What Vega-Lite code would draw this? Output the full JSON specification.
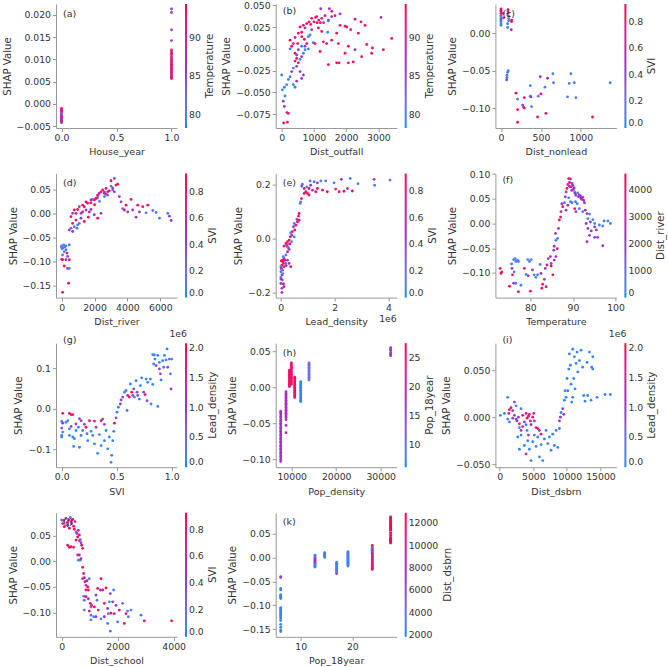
{
"$schema": "https://vega.github.io/schema/vega-lite/v6.json",
"background": "white",
"padding": {"left": 2, "top": 1, "right": 0, "bottom": 0},
"columns": 3,
"bounds": "flush",
"spacing": {"row": 45.6, "column": 98.7},
"resolve": {"scale": {"color": "independent", "x": "independent", "y": "independent"}, "legend": {"color": "independent"}},
"config": {
  "font": "DejaVu Sans",
  "view": {"stroke": null},
  "axis": {"grid": false, "domainColor": "#999999", "tickColor": "#999999", "labelColor": "#333333", "titleColor": "#333333", "labelFontSize": 9.3, "titleFontSize": 9.5, "titleFontWeight": "normal", "tickSize": 3.5, "labelPadding": 2, "titlePadding": 4, "labelFlush": false, "labelOverlap": false},
  "axisY": {"titleFontSize": 10.2},
  "legend": {"gradientLength": 124, "gradientThickness": 2, "labelFontSize": 9.3, "titleFontSize": 10.2, "titleFontWeight": "normal", "titleOrient": "right", "titleAnchor": "middle", "offset": 8, "padding": 0, "labelOffset": 4, "gradientStrokeWidth": 0, "titleColor": "#333333", "labelColor": "#333333", "labelOverlap": false, "titlePadding": 4},
  "title": {"anchor": "start", "frame": "group", "offset": -14, "dx": 7, "fontSize": 9.5, "fontWeight": "normal", "color": "#333333"},
  "point": {"filled": true, "size": 8, "opacity": 1}
},
"datasets": {
"a": [{"x":0,"y":-0.0010,"c":92},{"x":0,"y":-0.0012,"c":93},{"x":0,"y":-0.0014,"c":91},{"x":0,"y":-0.0016,"c":92},{"x":0,"y":-0.0018,"c":90},{"x":0,"y":-0.0020,"c":91},{"x":0,"y":-0.0022,"c":80},{"x":0,"y":-0.0024,"c":79},{"x":0,"y":-0.0026,"c":85},{"x":0,"y":-0.0028,"c":92},{"x":0,"y":-0.0030,"c":91},{"x":0,"y":-0.0032,"c":93},{"x":0,"y":-0.0034,"c":84},{"x":0,"y":-0.0036,"c":92},{"x":0,"y":-0.0038,"c":90},{"x":0,"y":-0.0040,"c":88},{"x":0,"y":-0.0042,"c":86},
{"x":1,"y":0.0213,"c":86},{"x":1,"y":0.0205,"c":86},{"x":1,"y":0.0166,"c":86},{"x":1,"y":0.0142,"c":85},{"x":1,"y":0.0121,"c":92},{"x":1,"y":0.0117,"c":91},{"x":1,"y":0.0113,"c":93},{"x":1,"y":0.0110,"c":92},{"x":1,"y":0.0106,"c":90},{"x":1,"y":0.0102,"c":91},{"x":1,"y":0.0098,"c":93},{"x":1,"y":0.0095,"c":89},{"x":1,"y":0.0092,"c":92},{"x":1,"y":0.0089,"c":91},{"x":1,"y":0.0086,"c":94},{"x":1,"y":0.0083,"c":90},{"x":1,"y":0.0080,"c":92},{"x":1,"y":0.0077,"c":88},{"x":1,"y":0.0074,"c":93},{"x":1,"y":0.0071,"c":91},{"x":1,"y":0.0068,"c":89},{"x":1,"y":0.0065,"c":92},{"x":1,"y":0.0062,"c":90},{"x":1,"y":0.0059,"c":91},{"x":1,"y":0.0057,"c":93}],
"b": [{"x":62,"y":-0.085,"c":93},{"x":176,"y":-0.084,"c":93},{"x":165,"y":-0.073,"c":93},{"x":207,"y":-0.074,"c":92},{"x":52,"y":-0.060,"c":86},{"x":83,"y":-0.066,"c":86},{"x":103,"y":-0.054,"c":79},{"x":21,"y":-0.047,"c":79},{"x":83,"y":-0.044,"c":79},{"x":155,"y":-0.041,"c":80},{"x":0,"y":-0.030,"c":79},{"x":207,"y":-0.035,"c":79},{"x":259,"y":-0.032,"c":80},{"x":310,"y":-0.026,"c":86},{"x":362,"y":-0.022,"c":79},{"x":465,"y":-0.020,"c":86},{"x":517,"y":-0.016,"c":93},{"x":414,"y":-0.014,"c":91},{"x":569,"y":-0.012,"c":79},{"x":620,"y":-0.009,"c":86},{"x":465,"y":-0.007,"c":86},{"x":672,"y":-0.005,"c":79},{"x":517,"y":-0.001,"c":86},{"x":259,"y":0.000,"c":79},{"x":310,"y":0.003,"c":93},{"x":362,"y":0.006,"c":93},{"x":259,"y":0.010,"c":93},{"x":414,"y":0.013,"c":91},{"x":517,"y":0.018,"c":93},{"x":620,"y":0.019,"c":93},{"x":569,"y":0.025,"c":93},{"x":672,"y":0.027,"c":93},{"x":776,"y":0.029,"c":93},{"x":724,"y":0.024,"c":86},{"x":848,"y":0.031,"c":93},{"x":931,"y":0.035,"c":93},{"x":1086,"y":0.037,"c":93},{"x":1241,"y":0.035,"c":91},{"x":1344,"y":0.038,"c":93},{"x":1448,"y":0.033,"c":93},{"x":1551,"y":0.037,"c":86},{"x":1655,"y":0.038,"c":93},{"x":1210,"y":0.046,"c":86},{"x":1479,"y":0.046,"c":86},{"x":1551,"y":0.043,"c":93},{"x":1810,"y":0.040,"c":86},{"x":2275,"y":0.034,"c":93},{"x":2461,"y":0.031,"c":93},{"x":1448,"y":0.032,"c":79},{"x":1427,"y":0.019,"c":79},{"x":1138,"y":0.024,"c":93},{"x":1241,"y":0.020,"c":93},{"x":931,"y":0.022,"c":86},{"x":776,"y":0.006,"c":93},{"x":982,"y":0.007,"c":79},{"x":1034,"y":0.006,"c":93},{"x":827,"y":0.000,"c":79},{"x":724,"y":0.003,"c":86},{"x":827,"y":0.014,"c":79},{"x":1293,"y":0.008,"c":93},{"x":1189,"y":-0.003,"c":93},{"x":1396,"y":0.006,"c":93},{"x":1551,"y":0.010,"c":93},{"x":1706,"y":0.018,"c":93},{"x":1810,"y":0.027,"c":93},{"x":1965,"y":0.026,"c":93},{"x":2585,"y":0.027,"c":93},{"x":3082,"y":0.036,"c":86},{"x":3413,"y":0.012,"c":93},{"x":3154,"y":-0.001,"c":93},{"x":2813,"y":0.001,"c":93},{"x":2792,"y":-0.005,"c":93},{"x":2637,"y":0.005,"c":93},{"x":2482,"y":-0.009,"c":93},{"x":2378,"y":0.018,"c":93},{"x":2141,"y":0.022,"c":93},{"x":2017,"y":0.025,"c":93},{"x":1758,"y":0.006,"c":93},{"x":1448,"y":-0.018,"c":93},{"x":1706,"y":-0.016,"c":93},{"x":1779,"y":-0.016,"c":93},{"x":2068,"y":-0.016,"c":93},{"x":2223,"y":-0.015,"c":93},{"x":2275,"y":-0.001,"c":86},{"x":2068,"y":0.003,"c":93},{"x":1965,"y":-0.005,"c":93},{"x":362,"y":-0.041,"c":79},{"x":465,"y":-0.037,"c":86},{"x":414,"y":-0.044,"c":79},{"x":620,"y":-0.034,"c":86},{"x":672,"y":-0.030,"c":86},{"x":569,"y":-0.026,"c":86},{"x":465,"y":-0.011,"c":93},{"x":414,"y":-0.005,"c":93},{"x":620,"y":0.003,"c":79},{"x":724,"y":-0.001,"c":79},{"x":879,"y":0.016,"c":79},{"x":620,"y":0.014,"c":93},{"x":496,"y":0.006,"c":93},{"x":703,"y":0.011,"c":93},{"x":1000,"y":0.031,"c":93},{"x":1100,"y":0.030,"c":93},{"x":1150,"y":0.033,"c":93},{"x":900,"y":0.028,"c":93},{"x":1050,"y":0.036,"c":91},{"x":1200,"y":0.030,"c":93},{"x":1300,"y":0.030,"c":86}],
"c": [{"x":0,"y":0.033,"c":0.88},{"x":0,"y":0.031,"c":0.9},{"x":0,"y":0.029,"c":0.85},{"x":0,"y":0.027,"c":0.75},{"x":0,"y":0.024,"c":0.45},{"x":0,"y":0.022,"c":0.1},{"x":0,"y":0.020,"c":0.1},{"x":0,"y":0.018,"c":0.85},{"x":0,"y":0.016,"c":0.1},{"x":0,"y":0.013,"c":0.05},{"x":0,"y":0.011,"c":0.1},{"x":88,"y":0.032,"c":0.88},{"x":88,"y":0.030,"c":0.85},{"x":88,"y":0.027,"c":0.9},{"x":96,"y":0.023,"c":0.45},{"x":96,"y":0.020,"c":0.1},{"x":96,"y":0.017,"c":0.1},{"x":83,"y":0.013,"c":0.1},{"x":83,"y":0.008,"c":0.1},{"x":133,"y":0.018,"c":0.88},{"x":133,"y":0.016,"c":0.85},{"x":129,"y":0.005,"c":0.45},{"x":25,"y":0.027,"c":0.85},{"x":33,"y":0.021,"c":0.85},{"x":92,"y":-0.050,"c":0.1},{"x":83,"y":-0.052,"c":0.1},{"x":75,"y":-0.056,"c":0.1},{"x":75,"y":-0.059,"c":0.15},{"x":71,"y":-0.062,"c":0.45},{"x":188,"y":-0.080,"c":0.88},{"x":208,"y":-0.088,"c":0.1},{"x":208,"y":-0.102,"c":0.88},{"x":208,"y":-0.119,"c":0.88},{"x":271,"y":-0.096,"c":0.45},{"x":283,"y":-0.099,"c":0.45},{"x":292,"y":-0.100,"c":0.85},{"x":292,"y":-0.086,"c":0.75},{"x":367,"y":-0.070,"c":0.1},{"x":367,"y":-0.084,"c":0.1},{"x":375,"y":-0.085,"c":0.45},{"x":383,"y":-0.098,"c":0.1},{"x":467,"y":-0.084,"c":0.1},{"x":458,"y":-0.112,"c":0.88},{"x":500,"y":-0.081,"c":0.88},{"x":492,"y":-0.058,"c":0.45},{"x":550,"y":-0.072,"c":0.1},{"x":563,"y":-0.107,"c":0.88},{"x":583,"y":-0.060,"c":0.45},{"x":650,"y":-0.054,"c":0.1},{"x":658,"y":-0.066,"c":0.1},{"x":833,"y":-0.085,"c":0.1},{"x":854,"y":-0.067,"c":0.1},{"x":875,"y":-0.054,"c":0.1},{"x":917,"y":-0.066,"c":0.1},{"x":938,"y":-0.086,"c":0.1},{"x":1146,"y":-0.112,"c":0.88},{"x":1367,"y":-0.066,"c":0.1}],
"d": [{"x":61,"y":-0.165,"c":0.88},{"x":426,"y":-0.146,"c":0.88},{"x":365,"y":-0.115,"c":0.45},{"x":467,"y":-0.115,"c":0.1},{"x":162,"y":-0.110,"c":0.88},{"x":0,"y":-0.096,"c":0.88},{"x":264,"y":-0.097,"c":0.45},{"x":467,"y":-0.097,"c":0.88},{"x":365,"y":-0.090,"c":0.45},{"x":61,"y":-0.087,"c":0.1},{"x":162,"y":-0.080,"c":0.1},{"x":264,"y":-0.076,"c":0.1},{"x":0,"y":-0.071,"c":0.1},{"x":0,"y":-0.068,"c":0.1},{"x":122,"y":-0.066,"c":0.1},{"x":264,"y":-0.068,"c":0.1},{"x":467,"y":-0.066,"c":0.1},{"x":325,"y":-0.083,"c":0.88},{"x":61,"y":-0.097,"c":0.88},{"x":30,"y":-0.074,"c":0.1},{"x":90,"y":-0.072,"c":0.15},{"x":200,"y":-0.070,"c":0.1},{"x":467,"y":-0.035,"c":0.45},{"x":568,"y":-0.031,"c":0.1},{"x":669,"y":-0.038,"c":0.45},{"x":669,"y":-0.021,"c":0.88},{"x":872,"y":-0.014,"c":0.88},{"x":1075,"y":-0.021,"c":0.1},{"x":974,"y":-0.024,"c":0.1},{"x":1176,"y":-0.010,"c":0.45},{"x":872,"y":0.000,"c":0.88},{"x":1278,"y":0.003,"c":0.88},{"x":974,"y":0.008,"c":0.88},{"x":1379,"y":0.014,"c":0.88},{"x":1582,"y":0.021,"c":0.88},{"x":1785,"y":0.022,"c":0.88},{"x":1988,"y":0.028,"c":0.88},{"x":2191,"y":0.033,"c":0.1},{"x":1886,"y":0.029,"c":0.1},{"x":1481,"y":0.007,"c":0.45},{"x":1684,"y":0.003,"c":0.45},{"x":1988,"y":-0.003,"c":0.45},{"x":2191,"y":-0.010,"c":0.88},{"x":2394,"y":0.000,"c":0.45},{"x":1623,"y":-0.008,"c":0.88},{"x":1379,"y":-0.017,"c":0.88},{"x":1176,"y":0.000,"c":0.45},{"x":1785,"y":0.008,"c":0.45},{"x":2292,"y":0.042,"c":0.45},{"x":2394,"y":0.045,"c":0.88},{"x":2596,"y":0.042,"c":0.88},{"x":2799,"y":0.038,"c":0.1},{"x":2698,"y":0.052,"c":0.88},{"x":3002,"y":0.068,"c":0.88},{"x":3205,"y":0.073,"c":0.45},{"x":3306,"y":0.059,"c":0.88},{"x":3408,"y":0.061,"c":0.88},{"x":3002,"y":0.057,"c":0.1},{"x":3103,"y":0.049,"c":0.1},{"x":3205,"y":0.045,"c":0.45},{"x":3509,"y":0.035,"c":0.45},{"x":3611,"y":0.024,"c":0.45},{"x":3712,"y":0.010,"c":0.1},{"x":3813,"y":0.007,"c":0.88},{"x":3915,"y":0.017,"c":0.88},{"x":4219,"y":0.029,"c":0.88},{"x":4016,"y":0.003,"c":0.45},{"x":4320,"y":0.007,"c":0.45},{"x":4625,"y":0.017,"c":0.88},{"x":4929,"y":0.014,"c":0.88},{"x":5233,"y":0.017,"c":0.88},{"x":4726,"y":0.003,"c":0.45},{"x":5132,"y":0.001,"c":0.1},{"x":5538,"y":0.006,"c":0.1},{"x":5740,"y":0.002,"c":0.1},{"x":4523,"y":-0.008,"c":0.45},{"x":5943,"y":-0.010,"c":0.1},{"x":6450,"y":0.000,"c":0.1},{"x":6552,"y":-0.006,"c":0.45},{"x":6653,"y":-0.015,"c":0.45},{"x":2495,"y":0.049,"c":0.88},{"x":2596,"y":0.045,"c":0.45},{"x":2799,"y":0.045,"c":0.88},{"x":2191,"y":0.038,"c":0.88},{"x":2089,"y":0.031,"c":0.88},{"x":1785,"y":0.028,"c":0.45},{"x":1481,"y":0.024,"c":0.88},{"x":1278,"y":0.017,"c":0.88},{"x":1075,"y":0.014,"c":0.45},{"x":771,"y":0.007,"c":0.88},{"x":669,"y":0.000,"c":0.45},{"x":568,"y":-0.007,"c":0.88},{"x":771,"y":-0.028,"c":0.1},{"x":933,"y":-0.031,"c":0.1},{"x":2600,"y":0.035,"c":0.1},{"x":2700,"y":0.040,"c":0.45},{"x":2900,"y":0.047,"c":0.88},{"x":3100,"y":0.053,"c":0.45},{"x":2000,"y":0.018,"c":0.88},{"x":2300,"y":0.025,"c":0.1}],
"e": [{"x":800000,"y":0.200,"c":0.1},{"x":780000,"y":0.193,"c":0.45},{"x":870000,"y":0.184,"c":0.88},{"x":930000,"y":0.172,"c":0.88},{"x":990000,"y":0.166,"c":0.88},{"x":1090000,"y":0.212,"c":0.1},{"x":1240000,"y":0.209,"c":0.1},{"x":1360000,"y":0.205,"c":0.45},{"x":1490000,"y":0.212,"c":0.1},{"x":1670000,"y":0.212,"c":0.1},{"x":1980000,"y":0.205,"c":0.1},{"x":2250000,"y":0.218,"c":0.45},{"x":2580000,"y":0.221,"c":0.1},{"x":2870000,"y":0.202,"c":0.1},{"x":3470000,"y":0.218,"c":0.45},{"x":3490000,"y":0.196,"c":0.1},{"x":4060000,"y":0.215,"c":0.1},{"x":2040000,"y":0.182,"c":0.75},{"x":2170000,"y":0.172,"c":0.88},{"x":2350000,"y":0.174,"c":0.88},{"x":2480000,"y":0.184,"c":0.45},{"x":2660000,"y":0.175,"c":0.88},{"x":1730000,"y":0.172,"c":0.88},{"x":1550000,"y":0.178,"c":0.88},{"x":1360000,"y":0.184,"c":0.88},{"x":1180000,"y":0.178,"c":0.45},{"x":1300000,"y":0.172,"c":0.88},{"x":1050000,"y":0.184,"c":0.88},{"x":1110000,"y":0.196,"c":0.45},{"x":970000,"y":0.190,"c":0.1},{"x":870000,"y":0.166,"c":0.88},{"x":1050000,"y":0.160,"c":0.88},{"x":740000,"y":0.135,"c":0.1},{"x":770000,"y":0.147,"c":0.88},{"x":720000,"y":0.129,"c":0.1},{"x":680000,"y":0.092,"c":0.88},{"x":660000,"y":0.082,"c":0.75},{"x":680000,"y":0.067,"c":0.88},{"x":620000,"y":0.061,"c":0.88},{"x":560000,"y":0.049,"c":0.88},{"x":500000,"y":0.055,"c":0.1},{"x":470000,"y":0.043,"c":0.45},{"x":520000,"y":0.031,"c":0.88},{"x":430000,"y":0.025,"c":0.88},{"x":410000,"y":0.012,"c":0.45},{"x":370000,"y":0.021,"c":0.1},{"x":350000,"y":0.006,"c":0.88},{"x":310000,"y":-0.006,"c":0.88},{"x":250000,"y":-0.012,"c":0.88},{"x":220000,"y":-0.025,"c":0.45},{"x":270000,"y":-0.033,"c":0.88},{"x":190000,"y":-0.018,"c":0.88},{"x":120000,"y":-0.028,"c":0.88},{"x":310000,"y":-0.040,"c":0.45},{"x":250000,"y":-0.049,"c":0.88},{"x":190000,"y":-0.061,"c":0.1},{"x":120000,"y":-0.074,"c":0.45},{"x":60000,"y":-0.080,"c":0.88},{"x":20000,"y":-0.083,"c":0.88},{"x":100000,"y":-0.092,"c":0.88},{"x":40000,"y":-0.098,"c":0.88},{"x":0,"y":-0.104,"c":0.1},{"x":20000,"y":-0.110,"c":0.88},{"x":60000,"y":-0.117,"c":0.45},{"x":0,"y":-0.123,"c":0.1},{"x":40000,"y":-0.135,"c":0.45},{"x":0,"y":-0.144,"c":0.1},{"x":60000,"y":-0.153,"c":0.1},{"x":0,"y":-0.166,"c":0.45},{"x":100000,"y":-0.168,"c":0.88},{"x":120000,"y":-0.178,"c":0.45},{"x":40000,"y":-0.184,"c":0.45},{"x":40000,"y":-0.199,"c":0.45},{"x":250000,"y":-0.080,"c":0.45},{"x":310000,"y":-0.092,"c":0.45},{"x":370000,"y":-0.104,"c":0.88},{"x":120000,"y":-0.104,"c":0.88},{"x":190000,"y":-0.092,"c":0.1},{"x":90000,"y":-0.067,"c":0.1},{"x":250000,"y":-0.031,"c":0.1},{"x":400000,"y":-0.012,"c":0.1},{"x":500000,"y":0.006,"c":0.1},{"x":80000,"y":-0.085,"c":0.88},{"x":150000,"y":-0.080,"c":0.88},{"x":30000,"y":-0.115,"c":0.1},{"x":70000,"y":-0.130,"c":0.1},{"x":10000,"y":-0.150,"c":0.45},{"x":200000,"y":-0.100,"c":0.45},{"x":330000,"y":-0.020,"c":0.88},{"x":600000,"y":0.070,"c":0.45}],
"f": [{"x":72.9,"y":-0.091,"c":4200},{"x":73.1,"y":-0.101,"c":4200},{"x":73.3,"y":-0.098,"c":4200},{"x":75.1,"y":-0.127,"c":4200},{"x":75.8,"y":-0.104,"c":4200},{"x":75.7,"y":-0.091,"c":2200},{"x":75.6,"y":-0.082,"c":400},{"x":76.1,"y":-0.073,"c":400},{"x":76.4,"y":-0.071,"c":400},{"x":76.6,"y":-0.077,"c":400},{"x":77.0,"y":-0.074,"c":400},{"x":77.2,"y":-0.077,"c":400},{"x":76.2,"y":-0.098,"c":400},{"x":76.1,"y":-0.121,"c":2200},{"x":76.6,"y":-0.121,"c":400},{"x":77.2,"y":-0.138,"c":4200},{"x":77.8,"y":-0.125,"c":400},{"x":78.6,"y":-0.091,"c":4200},{"x":79.0,"y":-0.103,"c":400},{"x":79.4,"y":-0.073,"c":400},{"x":79.8,"y":-0.077,"c":400},{"x":80.2,"y":-0.073,"c":400},{"x":79.5,"y":-0.106,"c":2200},{"x":80.0,"y":-0.137,"c":4200},{"x":80.5,"y":-0.094,"c":2200},{"x":80.9,"y":-0.104,"c":400},{"x":81.3,"y":-0.109,"c":400},{"x":81.7,"y":-0.104,"c":400},{"x":82.3,"y":-0.083,"c":400},{"x":82.5,"y":-0.101,"c":2200},{"x":82.7,"y":-0.131,"c":4200},{"x":82.9,"y":-0.123,"c":4200},{"x":83.3,"y":-0.113,"c":2200},{"x":83.7,"y":-0.128,"c":4200},{"x":83.5,"y":-0.091,"c":2200},{"x":83.9,"y":-0.084,"c":4200},{"x":84.2,"y":-0.071,"c":2200},{"x":84.7,"y":-0.067,"c":2200},{"x":84.9,"y":-0.086,"c":4200},{"x":85.3,"y":-0.104,"c":4200},{"x":84.9,"y":-0.081,"c":2200},{"x":85.6,"y":-0.074,"c":2200},{"x":86.0,"y":-0.067,"c":2200},{"x":85.5,"y":-0.054,"c":2200},{"x":85.6,"y":-0.046,"c":2200},{"x":86.0,"y":-0.034,"c":400},{"x":86.3,"y":-0.051,"c":4200},{"x":85.9,"y":-0.020,"c":2200},{"x":86.4,"y":-0.030,"c":400},{"x":86.6,"y":-0.010,"c":2200},{"x":86.8,"y":0.007,"c":4200},{"x":87.1,"y":0.013,"c":4200},{"x":87.2,"y":0.024,"c":2200},{"x":87.6,"y":0.034,"c":4200},{"x":87.4,"y":0.040,"c":2200},{"x":88.0,"y":0.042,"c":400},{"x":88.2,"y":0.054,"c":2200},{"x":88.4,"y":0.064,"c":2200},{"x":88.6,"y":0.071,"c":4200},{"x":88.8,"y":0.079,"c":2200},{"x":89.2,"y":0.075,"c":4200},{"x":89.0,"y":0.091,"c":4200},{"x":89.4,"y":0.090,"c":3700},{"x":89.6,"y":0.074,"c":2200},{"x":89.7,"y":0.067,"c":2200},{"x":90.0,"y":0.077,"c":2200},{"x":90.1,"y":0.069,"c":2200},{"x":90.4,"y":0.064,"c":400},{"x":90.5,"y":0.061,"c":2200},{"x":90.7,"y":0.057,"c":2200},{"x":91.1,"y":0.062,"c":400},{"x":91.3,"y":0.054,"c":2200},{"x":91.8,"y":0.055,"c":2200},{"x":91.9,"y":0.051,"c":2200},{"x":92.3,"y":0.053,"c":2200},{"x":92.5,"y":0.047,"c":2200},{"x":92.7,"y":0.042,"c":2200},{"x":89.0,"y":0.052,"c":400},{"x":89.4,"y":0.044,"c":400},{"x":89.8,"y":0.042,"c":400},{"x":90.6,"y":0.044,"c":400},{"x":91.0,"y":0.040,"c":400},{"x":88.8,"y":0.037,"c":2200},{"x":88.4,"y":0.027,"c":2200},{"x":90.4,"y":0.030,"c":4200},{"x":90.7,"y":0.024,"c":2200},{"x":91.5,"y":0.030,"c":400},{"x":92.3,"y":0.024,"c":400},{"x":92.9,"y":0.027,"c":2200},{"x":93.3,"y":0.020,"c":2200},{"x":93.9,"y":0.019,"c":400},{"x":93.5,"y":0.010,"c":400},{"x":94.1,"y":0.003,"c":2200},{"x":93.1,"y":0.000,"c":2200},{"x":93.5,"y":-0.010,"c":2200},{"x":93.3,"y":-0.037,"c":2200},{"x":94.7,"y":0.008,"c":400},{"x":95.1,"y":0.000,"c":400},{"x":95.1,"y":-0.007,"c":2200},{"x":95.5,"y":-0.013,"c":2200},{"x":95.1,"y":-0.028,"c":2200},{"x":95.8,"y":-0.028,"c":2200},{"x":96.2,"y":-0.003,"c":400},{"x":97.0,"y":-0.005,"c":400},{"x":97.3,"y":0.005,"c":400},{"x":98.2,"y":0.005,"c":400},{"x":98.8,"y":0.000,"c":400},{"x":97.0,"y":-0.045,"c":2200},{"x":94.3,"y":-0.015,"c":2200},{"x":93.9,"y":-0.024,"c":2200},{"x":89.8,"y":0.081,"c":2200},{"x":90.3,"y":0.072,"c":3000},{"x":91.5,"y":0.058,"c":3000},{"x":92.0,"y":0.049,"c":3000},{"x":89.2,"y":0.083,"c":3000}],
"g": [{"x":0.000,"y":-0.047,"c":900000},{"x":0.000,"y":-0.069,"c":100000},{"x":0.000,"y":-0.065,"c":100000},{"x":0.009,"y":-0.057,"c":100000},{"x":0.000,"y":-0.031,"c":100000},{"x":0.009,"y":-0.035,"c":900000},{"x":0.009,"y":-0.011,"c":1900000},{"x":0.039,"y":-0.033,"c":100000},{"x":0.055,"y":-0.029,"c":100000},{"x":0.070,"y":-0.011,"c":1900000},{"x":0.085,"y":-0.014,"c":1900000},{"x":0.100,"y":-0.014,"c":1900000},{"x":0.070,"y":-0.049,"c":100000},{"x":0.085,"y":-0.043,"c":900000},{"x":0.070,"y":-0.065,"c":100000},{"x":0.100,"y":-0.069,"c":100000},{"x":0.115,"y":-0.073,"c":100000},{"x":0.109,"y":-0.092,"c":100000},{"x":0.130,"y":-0.053,"c":100000},{"x":0.130,"y":-0.037,"c":900000},{"x":0.152,"y":-0.045,"c":100000},{"x":0.161,"y":-0.094,"c":100000},{"x":0.176,"y":-0.065,"c":100000},{"x":0.191,"y":-0.053,"c":100000},{"x":0.161,"y":-0.024,"c":900000},{"x":0.176,"y":-0.029,"c":900000},{"x":0.206,"y":-0.038,"c":900000},{"x":0.221,"y":-0.045,"c":1900000},{"x":0.230,"y":-0.061,"c":100000},{"x":0.236,"y":-0.078,"c":100000},{"x":0.252,"y":-0.029,"c":1900000},{"x":0.267,"y":-0.055,"c":100000},{"x":0.282,"y":-0.065,"c":100000},{"x":0.297,"y":-0.086,"c":100000},{"x":0.297,"y":-0.030,"c":1900000},{"x":0.312,"y":-0.045,"c":900000},{"x":0.327,"y":-0.109,"c":100000},{"x":0.342,"y":-0.063,"c":100000},{"x":0.358,"y":-0.029,"c":1900000},{"x":0.373,"y":-0.025,"c":900000},{"x":0.358,"y":-0.090,"c":100000},{"x":0.388,"y":-0.078,"c":100000},{"x":0.388,"y":-0.038,"c":900000},{"x":0.403,"y":-0.053,"c":100000},{"x":0.418,"y":-0.098,"c":100000},{"x":0.433,"y":-0.069,"c":100000},{"x":0.448,"y":-0.131,"c":100000},{"x":0.455,"y":-0.114,"c":100000},{"x":0.464,"y":-0.078,"c":100000},{"x":0.473,"y":-0.055,"c":100000},{"x":0.479,"y":-0.035,"c":1900000},{"x":0.494,"y":-0.022,"c":900000},{"x":0.503,"y":-0.008,"c":100000},{"x":0.515,"y":0.004,"c":100000},{"x":0.533,"y":0.012,"c":900000},{"x":0.539,"y":0.022,"c":900000},{"x":0.555,"y":0.029,"c":900000},{"x":0.570,"y":0.041,"c":100000},{"x":0.585,"y":0.045,"c":100000},{"x":0.594,"y":-0.004,"c":100000},{"x":0.600,"y":0.033,"c":1900000},{"x":0.615,"y":0.029,"c":1900000},{"x":0.624,"y":0.061,"c":100000},{"x":0.636,"y":0.041,"c":1900000},{"x":0.645,"y":0.033,"c":900000},{"x":0.655,"y":0.049,"c":900000},{"x":0.661,"y":0.029,"c":100000},{"x":0.676,"y":0.069,"c":100000},{"x":0.685,"y":0.041,"c":900000},{"x":0.691,"y":0.033,"c":900000},{"x":0.706,"y":0.024,"c":100000},{"x":0.715,"y":0.057,"c":100000},{"x":0.727,"y":0.076,"c":100000},{"x":0.745,"y":0.041,"c":900000},{"x":0.758,"y":0.035,"c":1900000},{"x":0.767,"y":0.073,"c":100000},{"x":0.776,"y":0.020,"c":900000},{"x":0.782,"y":0.065,"c":100000},{"x":0.806,"y":0.073,"c":100000},{"x":0.812,"y":0.012,"c":100000},{"x":0.827,"y":0.060,"c":100000},{"x":0.836,"y":0.110,"c":100000},{"x":0.842,"y":0.132,"c":100000},{"x":0.848,"y":0.122,"c":100000},{"x":0.858,"y":0.106,"c":900000},{"x":0.873,"y":0.131,"c":100000},{"x":0.873,"y":0.006,"c":100000},{"x":0.888,"y":0.098,"c":900000},{"x":0.897,"y":0.086,"c":900000},{"x":0.903,"y":0.071,"c":100000},{"x":0.918,"y":0.118,"c":100000},{"x":0.927,"y":0.102,"c":100000},{"x":0.933,"y":0.131,"c":100000},{"x":0.948,"y":0.120,"c":100000},{"x":0.958,"y":0.147,"c":100000},{"x":0.964,"y":0.102,"c":900000},{"x":0.979,"y":0.122,"c":100000},{"x":0.988,"y":0.086,"c":100000},{"x":0.994,"y":0.049,"c":900000},{"x":1.000,"y":0.122,"c":100000},{"x":0.827,"y":0.133,"c":100000},{"x":0.888,"y":0.114,"c":100000}],
"h": [{"x":7530,"y":-0.033,"c":17},{"x":7530,"y":-0.035,"c":16.5},{"x":7530,"y":-0.037,"c":17},{"x":7530,"y":-0.040,"c":17.5},{"x":7530,"y":-0.042,"c":17},{"x":7530,"y":-0.045,"c":16.5},{"x":7530,"y":-0.047,"c":17},{"x":7530,"y":-0.050,"c":17},{"x":7530,"y":-0.052,"c":17.5},{"x":7530,"y":-0.055,"c":17},{"x":7530,"y":-0.057,"c":16.5},{"x":7530,"y":-0.060,"c":17},{"x":7530,"y":-0.062,"c":17},{"x":7530,"y":-0.065,"c":17.5},{"x":7530,"y":-0.067,"c":17},{"x":7530,"y":-0.070,"c":17},{"x":7530,"y":-0.072,"c":16.5},{"x":7530,"y":-0.075,"c":17},{"x":7530,"y":-0.077,"c":17},{"x":7530,"y":-0.080,"c":17.5},{"x":7530,"y":-0.082,"c":17},{"x":7530,"y":-0.085,"c":17},{"x":7530,"y":-0.087,"c":16.5},{"x":7530,"y":-0.090,"c":17},{"x":7530,"y":-0.092,"c":17},{"x":7530,"y":-0.095,"c":17},{"x":7530,"y":-0.097,"c":17.5},{"x":7530,"y":-0.100,"c":17},{"x":7530,"y":-0.103,"c":17},
{"x":8727,"y":-0.006,"c":18.5},{"x":8727,"y":-0.008,"c":18.5},{"x":8727,"y":-0.010,"c":18.5},{"x":8727,"y":-0.012,"c":18.5},{"x":8727,"y":-0.014,"c":18.5},{"x":8727,"y":-0.016,"c":18.5},{"x":8727,"y":-0.018,"c":18.5},{"x":8727,"y":-0.020,"c":18.5},{"x":8727,"y":-0.022,"c":18.5},{"x":8727,"y":-0.024,"c":18.5},{"x":8727,"y":-0.026,"c":18.5},{"x":8727,"y":-0.028,"c":18.5},{"x":8727,"y":-0.030,"c":18.5},{"x":8727,"y":-0.032,"c":18.5},{"x":8727,"y":-0.034,"c":18.5},{"x":8727,"y":-0.036,"c":18.5},{"x":8727,"y":-0.038,"c":18.5},{"x":8727,"y":-0.040,"c":18.5},{"x":8727,"y":-0.042,"c":18.5},{"x":8727,"y":-0.045,"c":18.5},{"x":8727,"y":-0.053,"c":18.5},{"x":8727,"y":-0.063,"c":18.5},
{"x":9476,"y":0.024,"c":25.5},{"x":9476,"y":0.022,"c":25.5},{"x":9476,"y":0.020,"c":25.5},{"x":9476,"y":0.018,"c":25.5},{"x":9476,"y":0.016,"c":25.5},{"x":9476,"y":0.014,"c":25.5},{"x":9476,"y":0.012,"c":25.5},{"x":9476,"y":0.010,"c":25.5},{"x":9476,"y":0.008,"c":25.5},{"x":9476,"y":0.006,"c":25.5},{"x":9476,"y":0.004,"c":25.5},{"x":9476,"y":0.002,"c":25.5},{"x":9476,"y":0.001,"c":25.5},
{"x":9925,"y":0.034,"c":26},{"x":9925,"y":0.032,"c":26},{"x":9925,"y":0.030,"c":26},{"x":9925,"y":0.028,"c":26},{"x":9925,"y":0.026,"c":26},{"x":9925,"y":0.024,"c":26},{"x":9925,"y":0.022,"c":26},{"x":9925,"y":0.020,"c":26},{"x":9925,"y":0.018,"c":26},{"x":9925,"y":0.016,"c":26},{"x":9925,"y":0.014,"c":26},{"x":9925,"y":0.012,"c":26},{"x":9925,"y":0.010,"c":26},{"x":9925,"y":0.008,"c":26},{"x":9925,"y":0.006,"c":26},{"x":9925,"y":0.004,"c":26},
{"x":10674,"y":0.014,"c":26.5},{"x":10674,"y":0.012,"c":26.5},{"x":10674,"y":0.010,"c":26.5},{"x":10674,"y":0.008,"c":26.5},{"x":10674,"y":0.006,"c":26.5},{"x":10674,"y":0.004,"c":26.5},{"x":10674,"y":0.002,"c":26.5},{"x":10674,"y":0.000,"c":26.5},{"x":10674,"y":-0.002,"c":26.5},{"x":10674,"y":-0.004,"c":26.5},{"x":10674,"y":-0.006,"c":26.5},{"x":10674,"y":-0.008,"c":26.5},{"x":10674,"y":-0.010,"c":26.5},{"x":10674,"y":-0.012,"c":26.5},{"x":10674,"y":-0.014,"c":26.5},
{"x":12022,"y":0.008,"c":7},{"x":12022,"y":0.006,"c":7},{"x":12022,"y":0.004,"c":7},{"x":12022,"y":0.002,"c":7},{"x":12022,"y":0.000,"c":7},{"x":12022,"y":-0.002,"c":7},{"x":12022,"y":-0.004,"c":7},{"x":12022,"y":-0.006,"c":7},{"x":12022,"y":-0.008,"c":7},{"x":12022,"y":-0.010,"c":7},{"x":12022,"y":-0.012,"c":7},{"x":12022,"y":-0.014,"c":7},{"x":12022,"y":-0.016,"c":7},{"x":12022,"y":-0.018,"c":7},{"x":12022,"y":-0.020,"c":7},
{"x":13895,"y":0.034,"c":10.5},{"x":13895,"y":0.032,"c":10.5},{"x":13895,"y":0.030,"c":10.5},{"x":13895,"y":0.028,"c":10.5},{"x":13895,"y":0.026,"c":10.5},{"x":13895,"y":0.024,"c":10.5},{"x":13895,"y":0.022,"c":10.5},{"x":13895,"y":0.020,"c":10.5},{"x":13895,"y":0.018,"c":10.5},{"x":13895,"y":0.016,"c":10.5},{"x":13895,"y":0.014,"c":10.5},{"x":13895,"y":0.012,"c":10.5},{"x":13895,"y":0.010,"c":10.5},
{"x":32245,"y":0.055,"c":16},{"x":32245,"y":0.053,"c":16},{"x":32245,"y":0.051,"c":16},{"x":32245,"y":0.048,"c":16},{"x":32245,"y":0.046,"c":16},{"x":32245,"y":0.044,"c":16}],
"i": [{"x":99,"y":0.002,"c":100000},{"x":695,"y":0.004,"c":100000},{"x":1192,"y":0.021,"c":100000},{"x":1341,"y":0.004,"c":1800000},{"x":1440,"y":0.008,"c":1800000},{"x":1688,"y":0.010,"c":1800000},{"x":1936,"y":0.007,"c":1000000},{"x":2185,"y":0.016,"c":1000000},{"x":2433,"y":0.012,"c":100000},{"x":1192,"y":-0.002,"c":100000},{"x":1440,"y":-0.005,"c":100000},{"x":1936,"y":-0.001,"c":1000000},{"x":2185,"y":0.002,"c":1000000},{"x":2433,"y":-0.002,"c":1000000},{"x":2582,"y":-0.004,"c":1000000},{"x":2780,"y":0.000,"c":1000000},{"x":2929,"y":-0.007,"c":1800000},{"x":3178,"y":0.009,"c":100000},{"x":3426,"y":0.002,"c":1800000},{"x":3674,"y":-0.005,"c":1000000},{"x":2929,"y":-0.011,"c":100000},{"x":3178,"y":-0.014,"c":1000000},{"x":3426,"y":-0.010,"c":1800000},{"x":3922,"y":0.004,"c":1800000},{"x":4071,"y":-0.001,"c":1800000},{"x":4270,"y":0.001,"c":1800000},{"x":4419,"y":0.003,"c":1800000},{"x":4568,"y":-0.004,"c":1800000},{"x":4667,"y":-0.008,"c":1000000},{"x":4915,"y":0.000,"c":1800000},{"x":5064,"y":0.004,"c":1800000},{"x":5163,"y":-0.004,"c":1000000},{"x":5412,"y":-0.011,"c":1800000},{"x":5660,"y":-0.012,"c":1800000},{"x":5908,"y":-0.014,"c":1000000},{"x":6157,"y":-0.018,"c":1800000},{"x":3922,"y":-0.008,"c":100000},{"x":4071,"y":-0.014,"c":100000},{"x":4270,"y":-0.019,"c":1000000},{"x":2681,"y":-0.021,"c":100000},{"x":2929,"y":-0.034,"c":100000},{"x":3178,"y":-0.019,"c":100000},{"x":3674,"y":-0.030,"c":100000},{"x":3922,"y":-0.039,"c":1000000},{"x":4171,"y":-0.025,"c":100000},{"x":4419,"y":-0.034,"c":100000},{"x":4667,"y":-0.046,"c":100000},{"x":4915,"y":-0.026,"c":100000},{"x":5163,"y":-0.019,"c":100000},{"x":5412,"y":-0.031,"c":100000},{"x":5660,"y":-0.021,"c":100000},{"x":5908,"y":-0.042,"c":100000},{"x":6157,"y":-0.029,"c":100000},{"x":6405,"y":-0.046,"c":100000},{"x":6653,"y":-0.023,"c":100000},{"x":6901,"y":-0.014,"c":100000},{"x":7150,"y":-0.028,"c":100000},{"x":7398,"y":-0.021,"c":100000},{"x":7646,"y":-0.035,"c":100000},{"x":7895,"y":-0.018,"c":100000},{"x":8143,"y":-0.030,"c":100000},{"x":8391,"y":-0.014,"c":100000},{"x":8639,"y":-0.032,"c":100000},{"x":8888,"y":-0.012,"c":100000},{"x":9036,"y":0.000,"c":1000000},{"x":8888,"y":-0.004,"c":1000000},{"x":9136,"y":0.005,"c":100000},{"x":9384,"y":0.009,"c":1000000},{"x":9533,"y":0.003,"c":1000000},{"x":9632,"y":0.018,"c":100000},{"x":9731,"y":0.028,"c":100000},{"x":9880,"y":0.021,"c":100000},{"x":10029,"y":0.041,"c":100000},{"x":10129,"y":0.028,"c":100000},{"x":10278,"y":0.051,"c":100000},{"x":10377,"y":0.067,"c":100000},{"x":10526,"y":0.055,"c":100000},{"x":10725,"y":0.016,"c":100000},{"x":10874,"y":0.072,"c":100000},{"x":11023,"y":0.041,"c":100000},{"x":11122,"y":0.064,"c":100000},{"x":11221,"y":0.030,"c":100000},{"x":11370,"y":0.057,"c":100000},{"x":11519,"y":0.069,"c":100000},{"x":11618,"y":0.048,"c":100000},{"x":11867,"y":0.060,"c":100000},{"x":12115,"y":0.071,"c":100000},{"x":12363,"y":0.053,"c":100000},{"x":12512,"y":0.023,"c":100000},{"x":12711,"y":0.017,"c":100000},{"x":13009,"y":0.058,"c":100000},{"x":13108,"y":0.023,"c":100000},{"x":13356,"y":0.069,"c":100000},{"x":13605,"y":0.018,"c":100000},{"x":13704,"y":0.053,"c":100000},{"x":13853,"y":0.064,"c":100000},{"x":13853,"y":0.051,"c":100000},{"x":14498,"y":0.021,"c":100000},{"x":15690,"y":0.024,"c":100000},{"x":16484,"y":0.024,"c":100000},{"x":10874,"y":0.021,"c":100000},{"x":10625,"y":0.035,"c":100000}],
"j": [{"x":0,"y":0.080,"c":0.1},{"x":36,"y":0.073,"c":0.88},{"x":71,"y":0.079,"c":0.45},{"x":95,"y":0.067,"c":0.88},{"x":155,"y":0.083,"c":0.45},{"x":190,"y":0.075,"c":0.88},{"x":214,"y":0.070,"c":0.45},{"x":250,"y":0.080,"c":0.88},{"x":274,"y":0.064,"c":0.88},{"x":309,"y":0.085,"c":0.1},{"x":333,"y":0.077,"c":0.88},{"x":357,"y":0.073,"c":0.45},{"x":393,"y":0.081,"c":0.88},{"x":428,"y":0.068,"c":0.88},{"x":452,"y":0.062,"c":0.88},{"x":476,"y":0.077,"c":0.75},{"x":512,"y":0.057,"c":0.1},{"x":547,"y":0.054,"c":0.45},{"x":571,"y":0.047,"c":0.88},{"x":595,"y":0.060,"c":0.88},{"x":631,"y":0.051,"c":0.88},{"x":666,"y":0.042,"c":0.1},{"x":690,"y":0.036,"c":0.45},{"x":714,"y":0.031,"c":0.88},{"x":750,"y":0.025,"c":0.88},{"x":631,"y":0.040,"c":0.45},{"x":214,"y":0.031,"c":0.75},{"x":274,"y":0.027,"c":0.88},{"x":333,"y":0.028,"c":0.88},{"x":428,"y":0.027,"c":0.75},{"x":512,"y":0.041,"c":0.88},{"x":571,"y":0.012,"c":0.45},{"x":631,"y":0.012,"c":0.75},{"x":666,"y":0.002,"c":0.1},{"x":595,"y":0.002,"c":0.1},{"x":690,"y":0.005,"c":0.45},{"x":750,"y":-0.012,"c":0.88},{"x":785,"y":-0.024,"c":0.75},{"x":809,"y":-0.032,"c":0.88},{"x":750,"y":-0.034,"c":0.45},{"x":833,"y":-0.040,"c":0.88},{"x":869,"y":-0.047,"c":0.45},{"x":904,"y":-0.038,"c":0.45},{"x":928,"y":-0.050,"c":0.88},{"x":952,"y":-0.056,"c":0.88},{"x":869,"y":-0.056,"c":0.75},{"x":785,"y":-0.068,"c":0.1},{"x":809,"y":-0.076,"c":0.1},{"x":869,"y":-0.069,"c":0.88},{"x":952,"y":-0.073,"c":0.45},{"x":1023,"y":-0.082,"c":0.88},{"x":1047,"y":-0.089,"c":0.1},{"x":809,"y":-0.095,"c":0.1},{"x":987,"y":-0.097,"c":0.88},{"x":1047,"y":-0.105,"c":0.1},{"x":1071,"y":-0.086,"c":0.75},{"x":1166,"y":-0.089,"c":0.88},{"x":1226,"y":-0.066,"c":0.45},{"x":1261,"y":-0.076,"c":0.1},{"x":1285,"y":-0.053,"c":0.88},{"x":1309,"y":-0.095,"c":0.75},{"x":1404,"y":-0.034,"c":0.88},{"x":1464,"y":-0.056,"c":0.88},{"x":1380,"y":-0.056,"c":0.45},{"x":1523,"y":-0.082,"c":0.88},{"x":1583,"y":-0.052,"c":0.88},{"x":1642,"y":-0.092,"c":0.45},{"x":1666,"y":-0.102,"c":0.1},{"x":1702,"y":-0.079,"c":0.1},{"x":1737,"y":-0.063,"c":0.45},{"x":1761,"y":-0.101,"c":0.88},{"x":1821,"y":-0.079,"c":0.45},{"x":1856,"y":-0.056,"c":0.1},{"x":1404,"y":-0.112,"c":0.1},{"x":1523,"y":-0.108,"c":0.45},{"x":1642,"y":-0.121,"c":0.1},{"x":1737,"y":-0.136,"c":0.1},{"x":1880,"y":-0.102,"c":0.75},{"x":1940,"y":-0.086,"c":0.45},{"x":1999,"y":-0.118,"c":0.1},{"x":2059,"y":-0.095,"c":0.88},{"x":2178,"y":-0.082,"c":0.1},{"x":2237,"y":-0.121,"c":0.88},{"x":2297,"y":-0.102,"c":0.75},{"x":2356,"y":-0.097,"c":0.1},{"x":2380,"y":-0.108,"c":0.1},{"x":2475,"y":-0.095,"c":0.1},{"x":2832,"y":-0.105,"c":0.1},{"x":2951,"y":-0.116,"c":0.88},{"x":3927,"y":-0.116,"c":0.88},{"x":987,"y":-0.034,"c":0.1},{"x":1142,"y":-0.108,"c":0.1},{"x":1047,"y":-0.114,"c":0.1},{"x":1226,"y":-0.108,"c":0.45}],
"k": [{"x":6.13,"y":-0.040,"c":7000},{"x":6.13,"y":-0.042,"c":6000},{"x":6.13,"y":-0.065,"c":2500},{"x":6.13,"y":-0.068,"c":2500},{"x":6.13,"y":-0.078,"c":2500},{"x":6.13,"y":-0.080,"c":2500},{"x":6.13,"y":-0.082,"c":3000},{"x":6.13,"y":-0.084,"c":2500},{"x":6.13,"y":-0.086,"c":2500},{"x":6.13,"y":-0.105,"c":2500},{"x":6.13,"y":-0.107,"c":2500},{"x":6.13,"y":-0.110,"c":3000},{"x":6.13,"y":-0.112,"c":2500},{"x":6.13,"y":-0.114,"c":2500},{"x":6.13,"y":-0.117,"c":2500},{"x":6.13,"y":-0.120,"c":2500},{"x":6.13,"y":-0.122,"c":2500},{"x":6.13,"y":-0.124,"c":2500},{"x":6.13,"y":-0.128,"c":2500},{"x":6.13,"y":-0.132,"c":2500},{"x":6.13,"y":-0.140,"c":2500},{"x":6.13,"y":-0.146,"c":2500},{"x":6.13,"y":-0.152,"c":2500},{"x":6.13,"y":-0.155,"c":2500},
{"x":12.77,"y":0.005,"c":2500},{"x":12.77,"y":0.003,"c":2500},{"x":12.77,"y":0.001,"c":2500},{"x":12.77,"y":-0.001,"c":5000},{"x":12.77,"y":-0.003,"c":7000},{"x":12.77,"y":-0.005,"c":8000},{"x":12.77,"y":-0.007,"c":8500},{"x":12.77,"y":-0.009,"c":7500},{"x":12.77,"y":-0.011,"c":8000},{"x":12.77,"y":-0.013,"c":7000},{"x":12.77,"y":-0.015,"c":3500},{"x":12.77,"y":-0.017,"c":2500},{"x":12.77,"y":-0.019,"c":2500},{"x":12.77,"y":-0.020,"c":2500},
{"x":14.65,"y":0.010,"c":2500},{"x":14.65,"y":0.008,"c":2500},{"x":14.65,"y":0.006,"c":2500},{"x":14.65,"y":0.004,"c":2500},{"x":14.65,"y":0.002,"c":2500},{"x":14.65,"y":0.000,"c":2500},
{"x":16.97,"y":-0.010,"c":2500},{"x":16.97,"y":-0.012,"c":2500},{"x":16.97,"y":-0.014,"c":2500},{"x":16.97,"y":-0.016,"c":2500},{"x":16.97,"y":-0.018,"c":2500},{"x":16.97,"y":-0.020,"c":2500},{"x":16.97,"y":-0.022,"c":2500},{"x":16.97,"y":-0.024,"c":2500},{"x":16.97,"y":-0.026,"c":2500},{"x":16.97,"y":-0.028,"c":2500},{"x":16.97,"y":-0.030,"c":2500},{"x":16.97,"y":-0.032,"c":4000},{"x":16.97,"y":-0.034,"c":6000},
{"x":19.16,"y":0.012,"c":2500},{"x":19.16,"y":0.010,"c":2500},{"x":19.16,"y":0.008,"c":2500},{"x":19.16,"y":0.006,"c":5000},{"x":19.16,"y":0.004,"c":2500},{"x":19.16,"y":0.002,"c":2500},{"x":19.16,"y":0.000,"c":2500},{"x":19.16,"y":-0.002,"c":2500},{"x":19.16,"y":-0.004,"c":2500},{"x":19.16,"y":-0.006,"c":2500},{"x":19.16,"y":-0.008,"c":2500},{"x":19.16,"y":-0.010,"c":2500},{"x":19.16,"y":-0.012,"c":2500},{"x":19.16,"y":-0.014,"c":2500},{"x":19.16,"y":-0.016,"c":2500},{"x":19.16,"y":-0.018,"c":2500},
{"x":23.87,"y":0.025,"c":12500},{"x":23.87,"y":0.023,"c":12000},{"x":23.87,"y":0.021,"c":3000},{"x":23.87,"y":0.019,"c":3000},{"x":23.87,"y":0.017,"c":3000},{"x":23.87,"y":0.015,"c":6000},{"x":23.87,"y":0.013,"c":7000},{"x":23.87,"y":0.011,"c":3000},{"x":23.87,"y":0.009,"c":7000},{"x":23.87,"y":0.007,"c":8000},{"x":23.87,"y":0.005,"c":9000},{"x":23.87,"y":0.003,"c":9500},{"x":23.87,"y":0.001,"c":10000},{"x":23.87,"y":-0.001,"c":8000},{"x":23.87,"y":-0.003,"c":9500},{"x":23.87,"y":-0.005,"c":10000},{"x":23.87,"y":-0.007,"c":9500},{"x":23.87,"y":-0.009,"c":10500},{"x":23.87,"y":-0.011,"c":9500},{"x":23.87,"y":-0.013,"c":10000},{"x":23.87,"y":-0.015,"c":11000},{"x":23.87,"y":-0.017,"c":12000},{"x":23.87,"y":-0.019,"c":10000},{"x":23.87,"y":-0.021,"c":9500},{"x":23.87,"y":-0.023,"c":11500},{"x":23.87,"y":-0.025,"c":12500},
{"x":27.42,"y":0.085,"c":12500},{"x":27.42,"y":0.083,"c":12500},{"x":27.42,"y":0.081,"c":12500},{"x":27.42,"y":0.079,"c":12500},{"x":27.42,"y":0.077,"c":12000},{"x":27.42,"y":0.075,"c":12500},{"x":27.42,"y":0.073,"c":12500},{"x":27.42,"y":0.071,"c":12500},{"x":27.42,"y":0.069,"c":12500},{"x":27.42,"y":0.067,"c":12000},{"x":27.42,"y":0.065,"c":12500},{"x":27.42,"y":0.063,"c":12500},{"x":27.42,"y":0.061,"c":12500},{"x":27.42,"y":0.059,"c":12500},{"x":27.42,"y":0.057,"c":12500},{"x":27.42,"y":0.052,"c":12500},{"x":27.42,"y":0.050,"c":12500},{"x":27.42,"y":0.046,"c":12500},{"x":27.42,"y":0.042,"c":12500},{"x":27.42,"y":0.040,"c":12000},{"x":27.42,"y":0.038,"c":12500},{"x":27.42,"y":0.036,"c":12500},{"x":27.42,"y":0.034,"c":12500},{"x":27.42,"y":0.032,"c":12500},{"x":27.42,"y":0.030,"c":12500}]
},
"concat": [
{"width":121,"height":124,"title":{"text":"(a)"},"data":{"name":"a"},"mark":{"type":"point"},
 "encoding":{"x":{"field":"x","type":"quantitative","title":"House_year","scale":{"domain":[-0.05,1.05],"nice":false,"zero":false},"axis":{"values":[0,0.5,1],"format":".1f"}},
 "y":{"field":"y","type":"quantitative","title":"SHAP Value","scale":{"domain":[-0.0054,0.0224],"nice":false,"zero":false},"axis":{"values":[-0.005,0,0.005,0.01,0.015,0.02],"format":".3f"}},
 "color":{"field":"c","type":"quantitative","title":"Temperature","scale":{"domain":[78.3,86.35,94.4],"range":["#008bfb","#9b30cc","#ff0052"],"interpolate":"lab","clamp":true},"legend":{"values":[80,85,90],"format":"d","encode":{"title":{"update":{"angle":{"value":-90},"baseline":{"value":"top"}}}}}}}},
{"width":121,"height":124,"title":{"text":"(b)"},"data":{"name":"b"},"mark":{"type":"point"},
 "encoding":{"x":{"field":"x","type":"quantitative","title":"Dist_outfall","scale":{"domain":[-186,3568],"nice":false,"zero":false},"axis":{"values":[0,1000,2000,3000],"format":"d"}},
 "y":{"field":"y","type":"quantitative","title":"SHAP Value","scale":{"domain":[-0.0907,0.0514],"nice":false,"zero":false},"axis":{"values":[-0.075,-0.05,-0.025,0,0.025,0.05],"format":".3f"}},
 "color":{"field":"c","type":"quantitative","title":"Temperature","scale":{"domain":[78.3,86.35,94.4],"range":["#008bfb","#9b30cc","#ff0052"],"interpolate":"lab","clamp":true},"legend":{"values":[80,85,90],"format":"d","encode":{"title":{"update":{"angle":{"value":-90},"baseline":{"value":"top"}}}}}}}},
{"width":121,"height":124,"title":{"text":"(c)"},"data":{"name":"c"},"mark":{"type":"point"},
 "encoding":{"x":{"field":"x","type":"quantitative","title":"Dist_nonlead","scale":{"domain":[-70,1445],"nice":false,"zero":false},"axis":{"values":[0,500,1000],"format":"d"}},
 "y":{"field":"y","type":"quantitative","title":"SHAP Value","scale":{"domain":[-0.1267,0.0395],"nice":false,"zero":false},"axis":{"values":[-0.1,-0.05,0],"format":".2f"}},
 "color":{"field":"c","type":"quantitative","title":"SVI","scale":{"domain":[0,0.4665,0.933],"range":["#008bfb","#9b30cc","#ff0052"],"interpolate":"lab","clamp":true},"legend":{"values":[0,0.2,0.4,0.6,0.8],"format":".1f","encode":{"title":{"update":{"angle":{"value":-90},"baseline":{"value":"top"}}}}}}}},
{"width":121,"height":124,"title":{"text":"(d)"},"data":{"name":"d"},"mark":{"type":"point"},
 "encoding":{"x":{"field":"x","type":"quantitative","title":"Dist_river","scale":{"domain":[-340,7010],"nice":false,"zero":false},"axis":{"values":[0,2000,4000,6000],"format":"d"}},
 "y":{"field":"y","type":"quantitative","title":"SHAP Value","scale":{"domain":[-0.176,0.083],"nice":false,"zero":false},"axis":{"values":[-0.15,-0.1,-0.05,0,0.05],"format":".2f"}},
 "color":{"field":"c","type":"quantitative","title":"SVI","scale":{"domain":[0,0.4675,0.935],"range":["#008bfb","#9b30cc","#ff0052"],"interpolate":"lab","clamp":true},"legend":{"values":[0,0.2,0.4,0.6,0.8],"format":".1f","encode":{"title":{"update":{"angle":{"value":-90},"baseline":{"value":"top"}}}}}}}},
{"width":121,"height":124,"title":{"text":"(e)"},
 "layer":[
 {"data":{"name":"e"},"mark":{"type":"point"},
 "encoding":{"x":{"field":"x","type":"quantitative","title":"Lead_density","scale":{"domain":[-190000,4310000],"nice":false,"zero":false},"axis":{"values":[0,2000000,4000000],"labelExpr":"format(datum.value/1000000,'d')"}},
 "y":{"field":"y","type":"quantitative","title":"SHAP Value","scale":{"domain":[-0.218,0.239],"nice":false,"zero":false},"axis":{"values":[-0.2,-0.1,0,0.1,0.2],"format":".1f"}},
 "color":{"field":"c","type":"quantitative","title":"SVI","scale":{"domain":[0,0.4665,0.933],"range":["#008bfb","#9b30cc","#ff0052"],"interpolate":"lab","clamp":true},"legend":{"values":[0,0.2,0.4,0.6,0.8],"format":".1f","encode":{"title":{"update":{"angle":{"value":-90},"baseline":{"value":"top"}}}}}}}},
 {"data":{"values":[{"t":"1e6"}]},"mark":{"type":"text","align":"right","baseline":"middle","dy":21,"fontSize":9.3,"color":"#333333"},
 "encoding":{"text":{"field":"t"},"x":{"datum":4310000,"type":"quantitative"},"y":{"datum":-0.218,"type":"quantitative"}}}
 ]},
{"width":121,"height":124,"title":{"text":"(f)"},"data":{"name":"f"},"mark":{"type":"point"},
 "encoding":{"x":{"field":"x","type":"quantitative","title":"Temperature","scale":{"domain":[71.8,100.2],"nice":false,"zero":false},"axis":{"values":[80,90,100],"format":"d"}},
 "y":{"field":"y","type":"quantitative","title":"SHAP Value","scale":{"domain":[-0.150,0.101],"nice":false,"zero":false},"axis":{"values":[-0.1,-0.05,0,0.05,0.1],"format":".2f"}},
 "color":{"field":"c","type":"quantitative","title":"Dist_river","scale":{"domain":[0,2295,4590],"range":["#008bfb","#9b30cc","#ff0052"],"interpolate":"lab","clamp":true},"legend":{"values":[0,1000,2000,3000,4000],"format":"d","encode":{"title":{"update":{"angle":{"value":-90},"baseline":{"value":"top"}}}}}}}},
{"width":121,"height":124,"title":{"text":"(g)"},
 "layer":[
 {"data":{"name":"g"},"mark":{"type":"point"},
 "encoding":{"x":{"field":"x","type":"quantitative","title":"SVI","scale":{"domain":[-0.052,1.048],"nice":false,"zero":false},"axis":{"values":[0,0.5,1],"format":".1f"}},
 "y":{"field":"y","type":"quantitative","title":"SHAP Value","scale":{"domain":[-0.143,0.161],"nice":false,"zero":false},"axis":{"values":[-0.1,0,0.1],"format":".1f"}},
 "color":{"field":"c","type":"quantitative","title":"Lead_density","scale":{"domain":[0,1040000,2080000],"range":["#008bfb","#9b30cc","#ff0052"],"interpolate":"lab","clamp":true},"legend":{"values":[0,500000,1000000,1500000,2000000],"labelExpr":"format(datum.value/1000000,'.1f')","encode":{"title":{"update":{"angle":{"value":-90},"baseline":{"value":"top"}}}}}}}},
 {"data":{"values":[{"t":"1e6"}]},"mark":{"type":"text","align":"right","baseline":"bottom","dx":10,"dy":-4,"fontSize":9.3,"color":"#333333"},
 "encoding":{"text":{"field":"t"},"x":{"datum":1.048,"type":"quantitative"},"y":{"datum":0.161,"type":"quantitative"}}}
 ]},
{"width":121,"height":124,"title":{"text":"(h)"},"data":{"name":"h"},"mark":{"type":"point"},
 "encoding":{"x":{"field":"x","type":"quantitative","title":"Pop_density","scale":{"domain":[6405,33600],"nice":false,"zero":false},"axis":{"values":[10000,20000,30000],"format":"d"}},
 "y":{"field":"y","type":"quantitative","title":"SHAP Value","scale":{"domain":[-0.111,0.0613],"nice":false,"zero":false},"axis":{"values":[-0.1,-0.05,0,0.05],"format":".2f"}},
 "color":{"field":"c","type":"quantitative","title":"Pop_18year","scale":{"domain":[6.06,16.83,27.6],"range":["#008bfb","#9b30cc","#ff0052"],"interpolate":"lab","clamp":true},"legend":{"values":[10,15,20,25],"format":"d","encode":{"title":{"update":{"angle":{"value":-90},"baseline":{"value":"top"}}}}}}}},
{"width":121,"height":124,"title":{"text":"(i)"},
 "layer":[
 {"data":{"name":"i"},"mark":{"type":"point"},
 "encoding":{"x":{"field":"x","type":"quantitative","title":"Dist_dsbrn","scale":{"domain":[-645,17378],"nice":false,"zero":false},"axis":{"values":[0,5000,10000,15000],"format":"d"}},
 "y":{"field":"y","type":"quantitative","title":"SHAP Value","scale":{"domain":[-0.053,0.0784],"nice":false,"zero":false},"axis":{"values":[-0.05,-0.025,0,0.025,0.05,0.075],"format":".3f"}},
 "color":{"field":"c","type":"quantitative","title":"Lead_density","scale":{"domain":[0,1040000,2080000],"range":["#008bfb","#9b30cc","#ff0052"],"interpolate":"lab","clamp":true},"legend":{"values":[0,500000,1000000,1500000,2000000],"labelExpr":"format(datum.value/1000000,'.1f')","encode":{"title":{"update":{"angle":{"value":-90},"baseline":{"value":"top"}}}}}}}},
 {"data":{"values":[{"t":"1e6"}]},"mark":{"type":"text","align":"right","baseline":"bottom","dx":10,"dy":-4,"fontSize":9.3,"color":"#333333"},
 "encoding":{"text":{"field":"t"},"x":{"datum":17378,"type":"quantitative"},"y":{"datum":0.0784,"type":"quantitative"}}}
 ]},
{"width":121,"height":124,"title":{"text":"(j)"},"data":{"name":"j"},"mark":{"type":"point"},
 "encoding":{"x":{"field":"x","type":"quantitative","title":"Dist_school","scale":{"domain":[-202,4119],"nice":false,"zero":false},"axis":{"values":[0,2000,4000],"format":"d"}},
 "y":{"field":"y","type":"quantitative","title":"SHAP Value","scale":{"domain":[-0.147,0.094],"nice":false,"zero":false},"axis":{"values":[-0.1,-0.05,0,0.05],"format":".2f"}},
 "color":{"field":"c","type":"quantitative","title":"SVI","scale":{"domain":[0,0.4625,0.925],"range":["#008bfb","#9b30cc","#ff0052"],"interpolate":"lab","clamp":true},"legend":{"values":[0,0.2,0.4,0.6,0.8],"format":".1f","encode":{"title":{"update":{"angle":{"value":-90},"baseline":{"value":"top"}}}}}}}},
{"width":121,"height":124,"title":{"text":"(k)"},"data":{"name":"k"},"mark":{"type":"point"},
 "encoding":{"x":{"field":"x","type":"quantitative","title":"Pop_18year","scale":{"domain":[5.16,28.6],"nice":false,"zero":false},"axis":{"values":[10,20],"format":"d"}},
 "y":{"field":"y","type":"quantitative","title":"SHAP Value","scale":{"domain":[-0.166,0.0934],"nice":false,"zero":false},"axis":{"values":[-0.15,-0.1,-0.05,0,0.05],"format":".2f"}},
 "color":{"field":"c","type":"quantitative","title":"Dist_dsbrn","scale":{"domain":[1850,7400,12950],"range":["#008bfb","#9b30cc","#ff0052"],"interpolate":"lab","clamp":true},"legend":{"values":[2000,4000,6000,8000,10000,12000],"format":"d","encode":{"title":{"update":{"angle":{"value":-90},"baseline":{"value":"top"}}}}}}}}
]
}
